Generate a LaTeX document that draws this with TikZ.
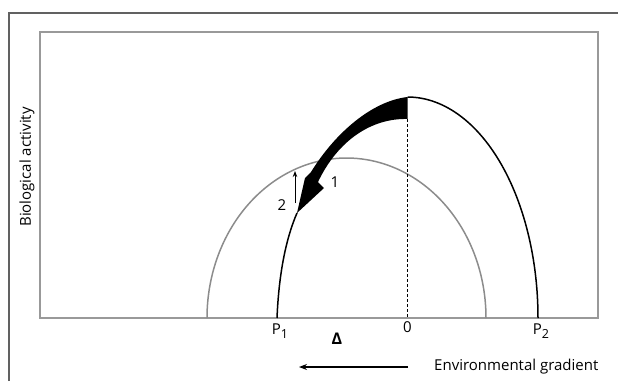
\documentclass[tikz,border=0pt]{standalone}
\usepackage{fontspec}
\setmainfont{Open Sans}
\usetikzlibrary{positioning}
\usetikzlibrary{arrows.meta}
\tikzstyle{frame} = [draw=black!62, line width=1.4pt]
\tikzstyle{panel} = [draw=black!40, line width=1.3pt]
\tikzstyle{curve} = [line width=1.5pt]
\tikzstyle{oldcurve} = [draw=black!45, line width=1.5pt]
\tikzstyle{dashline} = [dashed, line width=0.7pt, dash pattern=on 3pt off 2pt]
\tikzstyle{label} = [font=\fontsize{15}{17}\selectfont, inner sep=0pt]
\tikzstyle{arrow} = [line width=1.1pt, -{Stealth[length=8pt, width=6pt]}]
\newcommand{\sub}[1]{\lower4pt\hbox{\fontsize{12.5}{14}\selectfont #1}}

\begin{document}
\begin{tikzpicture}[x=1pt, y=-1pt]
            \useasboundingbox (0,0) rectangle (618,381);
            \draw [frame] (9,381) -- (9,13) -- (618,13);
            \draw [panel] (40,32) rectangle (598,318);

            % the two response curves
            \draw [oldcurve] plot [domain=0:180, samples=100, smooth] ({346.5+139.5*cos(\x)}, {318-160*sin(\x)});
            \draw [curve] plot [domain=0:90, samples=60, smooth] ({407.5+130.5*cos(\x)}, {318-221*sin(\x)});

            \coordinate (peak) at (407.5,97);
            \coordinate (base) at (407.5,119);
            \coordinate (zero) at (407.5,318);
            \coordinate (foot) at (277,318);
            \coordinate (tip) at (297,213);
            \draw [curve] (foot) .. controls (279,270) and (287,236) .. (tip);
            \draw [dashline] (base) -- (zero);

            % the shift
            \fill (peak) -- (base)
                .. controls (372,118) and (338,140) .. (318,182)
                -- (324,188) -- (tip) -- (305,178) -- (311,172)
                .. controls (335,133) and (372,101) .. (peak) -- cycle;

            \coordinate (up1) at (295,203);
            \coordinate (up2) at (295,171);
            \draw [line width=0.9pt, -{Stealth[length=6pt, width=4.5pt]}] (up1) -- (up2);
            \node (one) [label] at (335,182) {1};
            \node (two) [label] at (282,205) {2};

            % axis labels
            \node (p1) [label] at (280,331) {P\sub{1}};
            \node (delta) [label, font=\fontsize{16}{18}\selectfont\bfseries] at (337,339) {Δ};
            \node (zerolabel) [label] at (407.5,327) {0};
            \node (p2) [label] at (541,331) {P\sub{2}};
            \node (activity) [label, rotate=90] at (27,167) {Biological activity};
            \node (gradient) [label, anchor=west] at (434,367) {Environmental gradient};

            \coordinate (gstart) at (408,367);
            \coordinate (gend) at (299,367);
            \draw [arrow] (gstart) -- (gend);
        \end{tikzpicture}
\end{document}
